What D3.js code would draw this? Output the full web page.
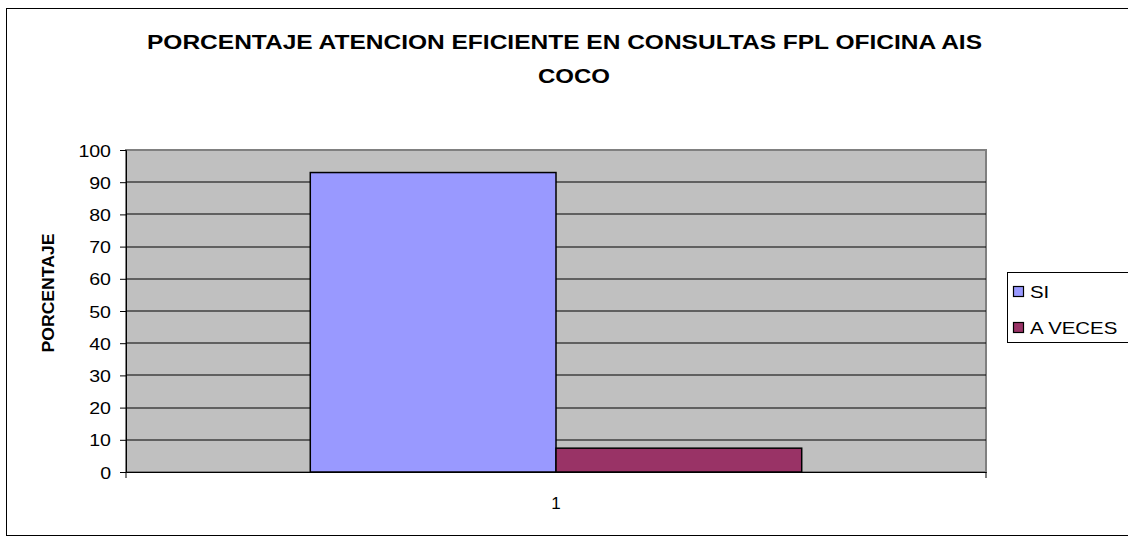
<!DOCTYPE html>
<html><head><meta charset="utf-8">
<script src="https://cdn.jsdelivr.net/npm/d3@7"></script>
<style>body{margin:0;background:#fff}svg{display:block}text{font-family:Arial,"Liberation Sans",sans-serif}</style>
</head><body>
<svg id="c" width="1128" height="541"></svg>
<script>
const titleLines = ["PORCENTAJE ATENCION EFICIENTE EN CONSULTAS FPL OFICINA AIS", "COCO"];
const categories = ["1"];
const seriesNames = ["SI", "A VECES"];
const seriesValues = [[93], [7.4]];
const seriesColors = ["#9999FF", "#993366"];
const yTicks = [0,10,20,30,40,50,60,70,80,90,100];
const yTitle = "PORCENTAJE";

const svg = d3.select("#c");
svg.append("rect").attr("x",6.5).attr("y",8.5).attr("width",1130).attr("height",527)
  .attr("fill","#fff").attr("stroke","#000").attr("stroke-width",1);

const plot = {l:126, t:150, r:986, b:472};
const y = d3.scaleLinear().domain([0,100]).range([plot.b, plot.t]);
const x0 = d3.scaleBand().domain(categories).range([plot.l, plot.r]).paddingInner(0).paddingOuter(0);
const groupFrac = 2/(2+1.5);
const x1 = d3.scaleBand().domain(seriesNames).range([0, x0.bandwidth()*groupFrac]);
const groupOffset = (x0.bandwidth() - x0.bandwidth()*groupFrac)/2;

svg.append("rect").attr("x",plot.l).attr("y",plot.t).attr("width",plot.r-plot.l).attr("height",plot.b-plot.t)
  .attr("fill","#C0C0C0").attr("stroke","#808080").attr("stroke-width",2);

svg.append("g").selectAll("line").data(yTicks.filter(d=>d>0 && d<100)).join("line")
  .attr("x1",plot.l).attr("x2",plot.r).attr("y1",d=>Math.round(y(d))).attr("y2",d=>Math.round(y(d)))
  .attr("stroke","#000").attr("stroke-width",1);

function stretch(sel, f){
  sel.each(function(){ const n=this; const L=n.getComputedTextLength(); n.setAttribute("textLength", L*f); n.setAttribute("lengthAdjust","spacingAndGlyphs"); });
}

const g = svg.append("g");
categories.forEach((c,ci)=>{
  seriesNames.forEach((s,si)=>{
    const v = seriesValues[si][ci];
    g.append("rect").attr("x", x0(c)+groupOffset+x1(s)).attr("y", y(v))
      .attr("width", x1.bandwidth()).attr("height", y(0)-y(v))
      .attr("fill", seriesColors[si]).attr("stroke","#000").attr("stroke-width",1.5);
  });
});

const ya = svg.append("g").attr("transform",`translate(${plot.l},0)`)
  .call(d3.axisLeft(y).tickValues(yTicks).tickSize(6).tickPadding(9));
ya.select(".domain").attr("stroke","#000");
ya.selectAll(".tick line").attr("stroke","#000");
ya.selectAll("text").attr("font-size",17).attr("fill","#000").attr("font-family","Arial, 'Liberation Sans', sans-serif").attr("dy","0.36em");
stretch(ya.selectAll("text"),1.15);

const xa = svg.append("g").attr("transform",`translate(0,${plot.b})`)
  .call(d3.axisBottom(x0).tickSize(0).tickPadding(25));
xa.select(".domain").attr("stroke","#000");
xa.selectAll("text").attr("font-size",17).attr("fill","#000").attr("font-family","Arial, 'Liberation Sans', sans-serif");
[plot.l, plot.r].forEach(px=>svg.append("line").attr("x1",px).attr("x2",px).attr("y1",plot.b).attr("y2",plot.b+6).attr("stroke","#000"));

const t1 = svg.append("text").attr("x",564.5).attr("y",49).attr("text-anchor","middle")
  .attr("font-size",20).attr("font-weight","bold").text(titleLines[0]);
t1.attr("textLength",835).attr("lengthAdjust","spacingAndGlyphs");
const t2 = svg.append("text").attr("x",574).attr("y",83).attr("text-anchor","middle")
  .attr("font-size",20).attr("font-weight","bold").text(titleLines[1]);
t2.attr("textLength",72).attr("lengthAdjust","spacingAndGlyphs");

const yt = svg.append("text").attr("transform","translate(54,293) rotate(-90)").attr("text-anchor","middle")
  .attr("font-size",16.5).attr("font-weight","bold").text(yTitle);
yt.attr("textLength",119).attr("lengthAdjust","spacingAndGlyphs");

svg.append("rect").attr("x",1007.5).attr("y",272.5).attr("width",140).attr("height",70)
  .attr("fill","#fff").attr("stroke","#000").attr("stroke-width",1);
const leg = svg.append("g");
seriesNames.forEach((s,i)=>{
  const yy = 286 + i*36;
  leg.append("rect").attr("x",1013.5).attr("y",yy+0.5).attr("width",10).attr("height",10)
    .attr("fill",seriesColors[i]).attr("stroke","#000").attr("stroke-width",1.2);
  const tx = leg.append("text").attr("x",1030).attr("y",yy+12).attr("font-size",17).text(s);
  stretch(tx,1.2);
});
</script>
</body></html>
